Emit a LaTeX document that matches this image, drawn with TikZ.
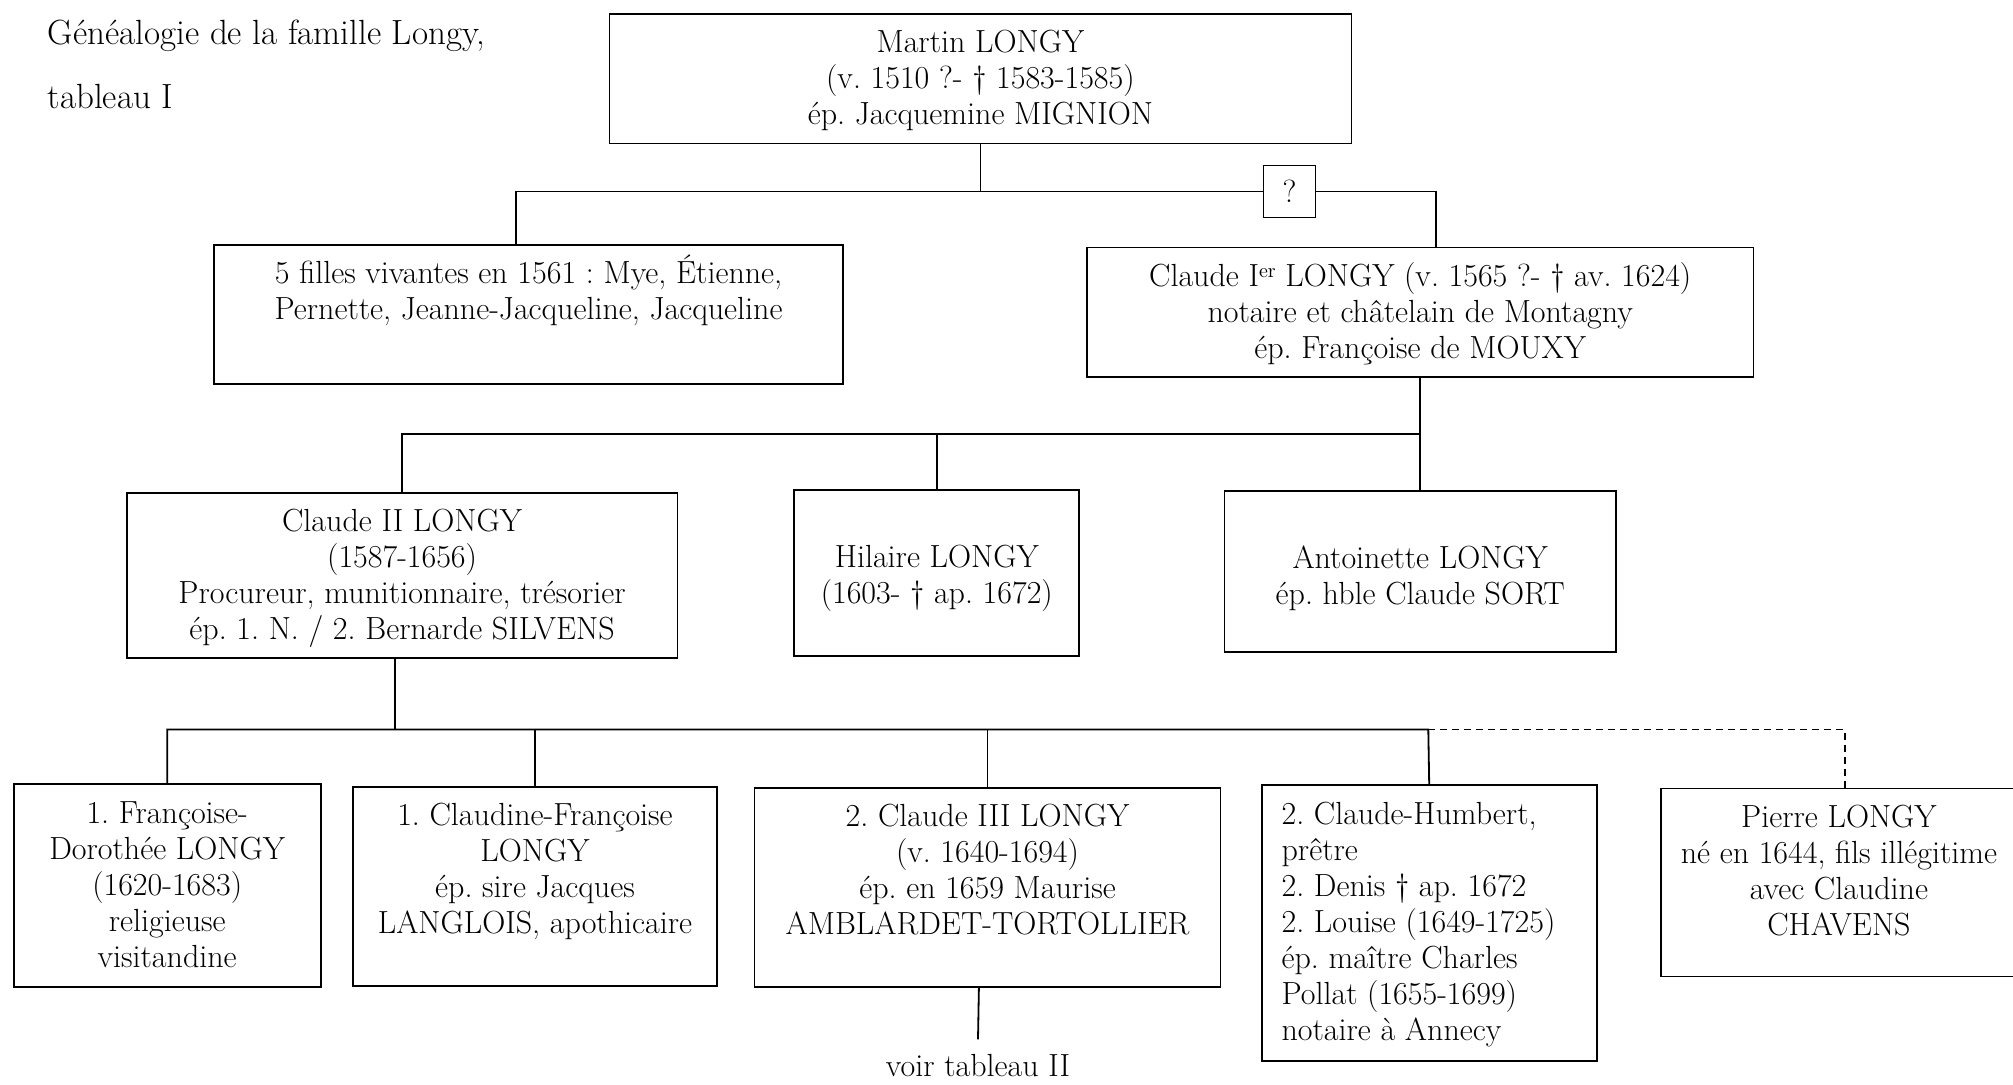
\documentclass[tikz,border=0pt]{standalone}
\usepackage{tikz}
\frenchspacing

% a framed cell: width, height, first baseline, text
\newcommand{\famcell}[4]{\parbox[c][#2][t]{#1}{\centering\rule{0pt}{#3}#4}}
\newcommand{\famleft}[4]{\parbox[c][#2][t]{#1}{\raggedright\leftskip=10pt\rule{0pt}{#3}#4}}
\newcommand{\famsup}[1]{\raisebox{4.5pt}{\fontsize{10}{10}\selectfont #1}}

\tikzset{
  fambox/.style={draw, line width=0.9pt, inner sep=0pt, anchor=north west},
  famline/.style={line width=0.9pt},
}

\begin{document}
\begin{tikzpicture}[x=0.5pt, y=-0.5pt, font=\fontsize{16}{18}\selectfont]
    \useasboundingbox (0,0) rectangle (2013,1084);
    \clip (0,0) rectangle (2013,1084);

    % title
    \node[anchor=north west, align=left, inner sep=0pt, font=\fontsize{17.5}{32}\selectfont]
      (title) at (47.5,20) {Généalogie de la famille Longy,\\tableau I};

    % first generations
    \node[fambox] (martin) at (608.5,12.8)
      {\famcell{371pt}{64.9pt}{19.5pt}{Martin LONGY\\(v. 1510 ?- † 1583-1585)\\ép. Jacquemine MIGNION}};
    \node[draw, line width=0.9pt, minimum size=26pt, inner sep=0pt] (doubt) at (1289.5,191.5) {?};
    \node[fambox] (filles) at (213.1,243.9)
      {\famcell{314.6pt}{69.4pt}{19.5pt}{5 filles vivantes en 1561 : Mye, Étienne,\\Pernette, Jeanne-Jacqueline, Jacqueline}};
    \node[fambox] (claudeI) at (1086.1,246.5)
      {\famcell{333.2pt}{64.9pt}{19.5pt}{Claude I\famsup{er} LONGY (v. 1565 ?- † av. 1624)\\notaire et châtelain de Montagny\\ép. Françoise de MOUXY}};

    \draw[famline] (martin.south) -- (martin.south |- doubt.west);
    \draw[famline] (doubt.west) -| ([xshift=-6.5pt]filles.north);
    \draw[famline] (doubt.east) -| ([xshift=8pt]claudeI.north);

    % children of Claude I
    \node[fambox] (claudeII) at (125.8,491.7)
      {\famcell{275.4pt}{82.8pt}{19.5pt}{Claude II LONGY\\(1587-1656)\\Procureur, munitionnaire, trésorier\\ép. 1. N. / 2. Bernarde SILVENS}};
    \node[fambox] (hilaire) at (793.4,489.1)
      {\famcell{142.5pt}{82.8pt}{38.5pt}{Hilaire LONGY\\(1603- † ap. 1672)}};
    \node[fambox] (antoinette) at (1223.5,490.4)
      {\famcell{195.8pt}{80.3pt}{38.5pt}{Antoinette LONGY\\ép. hble Claude SORT}};

    \coordinate (jointII) at (1419.3,434);
    \draw[famline] (claudeI.south) -- (antoinette.north);
    \draw[famline] (claudeII.north) |- (jointII);
    \draw[famline] (hilaire.north) -- (hilaire.north |- jointII);

    % children of Claude II
    \node[fambox] (fd) at (12.8,783.1)
      {\famcell{153.5pt}{101.5pt}{19.5pt}{1. Françoise-\\Dorothée LONGY\\(1620-1683)\\religieuse\\visitandine}};
    \node[fambox] (cf) at (351.8,785.7)
      {\famcell{182.3pt}{99.5pt}{19.5pt}{1. Claudine-Françoise\\LONGY\\ép. sire Jacques\\LANGLOIS, apothicaire}};
    \node[fambox] (c3) at (753.6,787)
      {\famcell{233pt}{99.5pt}{19.5pt}{2. Claude III LONGY\\(v. 1640-1694)\\ép. en 1659 Maurise\\AMBLARDET-TORTOLLIER}};
    \node[fambox] (ch) at (1260.7,784.4)
      {\famleft{167.6pt}{138pt}{19.5pt}{2. Claude-Humbert,\\prêtre\\2. Denis † ap. 1672\\2. Louise (1649-1725)\\ép. maître Charles\\Pollat (1655-1699)\\notaire à Annecy}};
    \node[fambox] (pierre) at (1660,787.5)
      {\famcell{178pt}{94pt}{19.5pt}{Pierre LONGY\\né en 1644, fils illégitime\\avec Claudine\\CHAVENS}};

    \coordinate (jointIII) at (1428.3,729.5);
    \draw[famline] ([xshift=-3.5pt]claudeII.south) -- ([xshift=-3.5pt]claudeII.south |- jointIII);
    \draw[famline] (fd.north) |- (jointIII) -- (ch.north);
    \draw[famline] (cf.north) -- (cf.north |- jointIII);
    \draw[famline] (c3.north) -- (c3.north |- jointIII);
    \draw[famline, dash pattern=on 3.5pt off 2.5pt] (jointIII) -| ([xshift=3pt]pierre.north);

    % pointer to the next table
    \node[inner ysep=7.5pt] (seeII) at (978,1066) {voir tableau II};
    \draw[famline] ([xshift=-4.3pt]c3.south) -- (seeII.north);
\end{tikzpicture}
\end{document}
